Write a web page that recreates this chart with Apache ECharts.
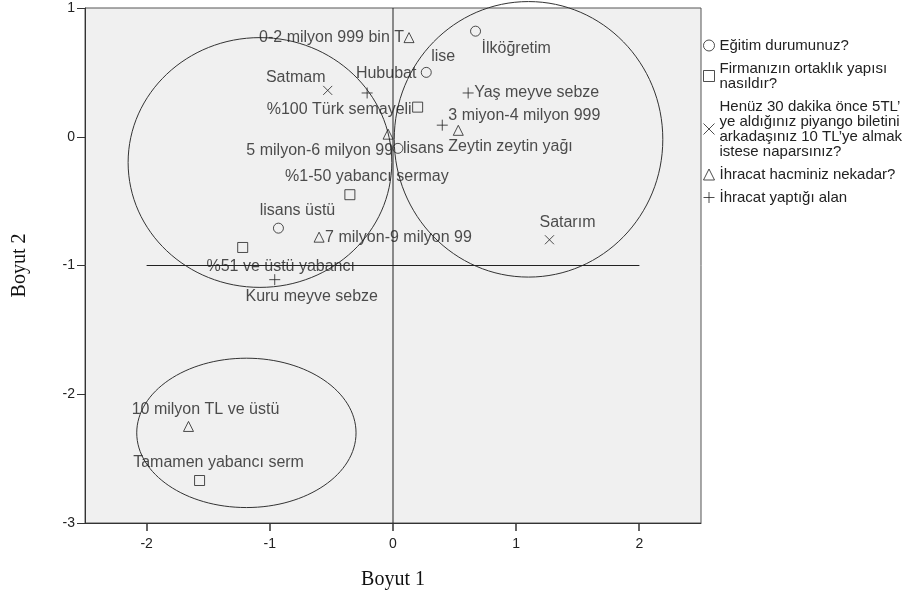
<!DOCTYPE html>
<html>
<head>
<meta charset="utf-8">
<script src="https://cdn.jsdelivr.net/npm/echarts@6/dist/echarts.min.js"></script>
<style>html,body{margin:0;padding:0;background:#fff;}#c{width:917px;height:600px;}</style>
</head>
<body>
<div id="c"></div>
<script>
// ---- data ----
const eduPoints = [[0.67, 0.82], [0.27, 0.50], [0.04, -0.09], [-0.93, -0.71]];
const eduLabels = ['İlköğretim', 'lise', 'lisans', 'lisans üstü'];
const firmPoints = [[0.20, 0.23], [-0.35, -0.45], [-1.22, -0.86], [-1.57, -2.67]];
const firmLabels = ['%100 Türk semayeli', '%1-50 yabancı sermay', '%51 ve üstü yabancı', 'Tamamen yabancı serm'];
const lotteryPoints = [[-0.53, 0.36], [1.27, -0.80]];
const lotteryLabels = ['Satmam', 'Satarım'];
const volumePoints = [[0.13, 0.77], [-0.04, 0.02], [0.53, 0.05], [-0.60, -0.78], [-1.66, -2.25]];
const volumeLabels = ['0-2 milyon 999 bin T', '5 milyon-6 milyon 99', '3 miyon-4 milyon 999', '7 milyon-9 milyon 99', '10 milyon TL ve üstü'];
const areaPoints = [[-0.21, 0.34], [0.61, 0.34], [0.40, 0.09], [-0.96, -1.11]];
const areaLabels = ['Hububat', 'Yaş meyve sebze', 'Zeytin zeytin yağı', 'Kuru meyve sebze'];
// ellipses: [centerX, centerY, radiusX, radiusY] in data units
const ellipses = [[-1.08, -0.20, 1.07, 0.97], [1.10, -0.02, 1.09, 1.07], [-1.19, -2.30, 0.89, 0.58]];
const refVertical = [[0, -3], [0, 1]];
const refHorizontal = [[-2, -1], [2, -1]];
const xTicks = [-2, -1, 0, 1, 2];
const yTicks = [-3, -2, -1, 0, 1];
const legendNames = ['Eğitim durumunuz?', 'Firmanızın ortaklık yapısı\nnasıldır?', 'Henüz 30 dakika önce 5TL’\nye aldığınız piyango biletini\narkadaşınız 10 TL’ye almak\nistese naparsınız?', 'İhracat hacminiz nekadar?', 'İhracat yaptığı alan'];

// ---- label placement (layout only) ----
const labelPlace = {
  'İlköğretim': ['left', 6, 17],
  'lise': ['left', 5, -16],
  'lisans': ['left', 5, 0],
  'lisans üstü': ['center', 19, -18],
  '%100 Türk semayeli': ['right', -6, 2],
  '%1-50 yabancı sermay': ['center', 17, -18],
  '%51 ve üstü yabancı': ['center', 38, 19],
  'Tamamen yabancı serm': ['center', 19, -18],
  'Satmam': ['center', -32, -13],
  'Satarım': ['center', 18, -17],
  '0-2 milyon 999 bin T': ['right', -5, 0],
  '5 milyon-6 milyon 99': ['right', 5, 16],
  '3 miyon-4 milyon 999': ['left', -10, -15],
  '7 milyon-9 milyon 99': ['left', 6, 0],
  '10 milyon TL ve üstü': ['center', 17, -17],
  'Hububat': ['center', 19, -19],
  'Yaş meyve sebze': ['left', 6, 0],
  'Zeytin zeytin yağı': ['left', 6, 21],
  'Kuru meyve sebze': ['center', 37, 17]
};

const INK = '#222';
const FONT = '"Liberation Sans", Arial, sans-serif';
const SERIF = '"Liberation Serif", "Times New Roman", serif';
const TICK_LEN = 8;
const symX = 'path://M0 0L10 10M10 0L0 10';
const symPlus = 'path://M5 0L5 10M0 5L10 5';
const groups = [
  {pts: eduPoints, lbl: eduLabels, symbol: 'circle', size: 10},
  {pts: firmPoints, lbl: firmLabels, symbol: 'rect', size: 10},
  {pts: lotteryPoints, lbl: lotteryLabels, symbol: symX, size: 9},
  {pts: volumePoints, lbl: volumeLabels, symbol: 'triangle', size: 10},
  {pts: areaPoints, lbl: areaLabels, symbol: symPlus, size: 11}
];
const markerStyle = {color: 'rgba(0,0,0,0)', borderColor: INK, borderWidth: 1};

const scatterSeries = groups.map((g, gi) => ({
  type: 'scatter',
  name: legendNames[gi],
  symbol: g.symbol,
  symbolSize: g.size,
  itemStyle: markerStyle,
  z: 5,
  data: g.pts.map((p, i) => {
    const pl = labelPlace[g.lbl[i]];
    return {
      value: p,
      name: g.lbl[i],
      label: {show: true, position: 'inside', align: pl[0], verticalAlign: 'middle', offset: [pl[1], pl[2]],
        formatter: g.lbl[i], color: INK, fontSize: 16, fontFamily: FONT}
    };
  })
}));

const chart = echarts.init(document.getElementById('c'), null, {renderer: 'canvas'});
chart.setOption({
  animation: false,
  backgroundColor: '#fff',
  grid: {left: 85, right: 216, top: 8, bottom: 77, show: true, backgroundColor: '#f0f0f0', borderColor: '#555', borderWidth: 1},
  xAxis: {
    type: 'value', min: -2.5, max: 2.5, splitNumber: 5,
    name: 'Boyut 1', nameLocation: 'middle', nameGap: 47,
    nameTextStyle: {fontFamily: SERIF, fontSize: 20, color: '#111'},
    axisLine: {onZero: false, lineStyle: {color: '#333', width: 1}},
    axisTick: {show: false},
    axisLabel: {customValues: xTicks, color: '#222', fontSize: 14, fontFamily: FONT, margin: 14},
    splitLine: {show: false}
  },
  yAxis: {
    type: 'value', min: -3, max: 1, interval: 1,
    name: 'Boyut 2', nameLocation: 'middle', nameGap: 55,
    nameTextStyle: {fontFamily: SERIF, fontSize: 20, color: '#111'},
    axisLine: {onZero: false, lineStyle: {color: '#333', width: 1}},
    axisTick: {show: true, length: TICK_LEN, lineStyle: {color: '#333'}},
    axisLabel: {color: '#222', fontSize: 14, fontFamily: FONT, margin: 10, formatter: v => String(v)},
    splitLine: {show: false}
  },
  legend: {
    orient: 'vertical', left: 703, top: 38, padding: 0,
    itemWidth: 11, itemHeight: 11, itemGap: 8,
    textStyle: {fontSize: 15, lineHeight: 15, color: INK, fontFamily: FONT},
    data: groups.map((g, gi) => ({name: legendNames[gi], icon: g.symbol, itemStyle: markerStyle}))
  },
  series: [
    {
      type: 'custom', name: 'ellipses', silent: true, z: 2, clip: false,
      data: ellipses,
      renderItem: (params, api) => {
        const c = api.coord([api.value(0), api.value(1)]);
        const s = api.size([api.value(2), api.value(3)]);
        return {type: 'ellipse', shape: {cx: c[0], cy: c[1], rx: s[0], ry: s[1]},
          style: {fill: 'none', stroke: '#333', lineWidth: 1}};
      }
    },
    {
      // x-axis tick marks at the tick-label values, placed through the axis scale
      type: 'custom', name: 'xticks', silent: true, z: 10, zlevel: 0, clip: false,
      data: xTicks.map(v => [v, yTicks[0]]),
      renderItem: (params, api) => {
        const p = api.coord([api.value(0), api.value(1)]);
        return {type: 'rect', shape: {x: Math.round(p[0]) - 0.75, y: p[1], width: 1.5, height: TICK_LEN},
          style: {fill: '#333'}};
      }
    },
    {type: 'line', name: 'refV', data: refVertical, symbol: 'none', silent: true, z: 3, lineStyle: {color: '#222', width: 1}},
    {type: 'line', name: 'refH', data: refHorizontal, symbol: 'none', silent: true, z: 3, lineStyle: {color: '#222', width: 1}},
    ...scatterSeries
  ]
});
</script>
</body>
</html>
